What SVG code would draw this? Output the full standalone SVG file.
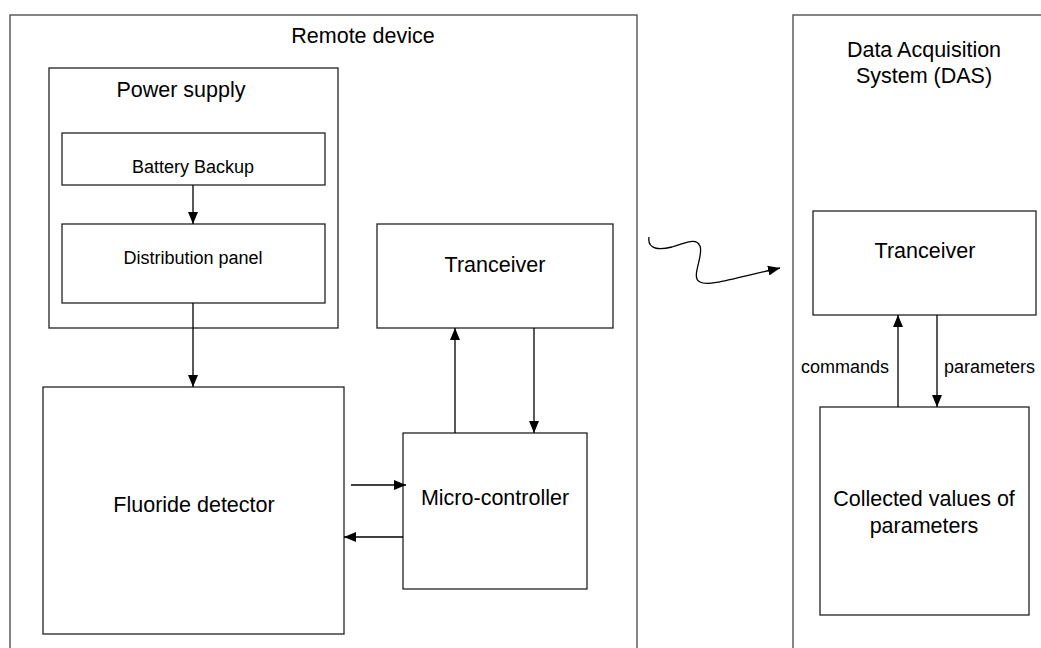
<svg xmlns="http://www.w3.org/2000/svg" width="1041" height="648" viewBox="0 0 1041 648">
<defs>
<style>
.box{fill:none;stroke:#222;stroke-width:1.3}
.outer{fill:none;stroke:#444;stroke-width:1.3}
.big{font-family:"Liberation Sans",Arial,sans-serif;font-size:21.5px;fill:#000;text-anchor:middle}
.small{font-family:"Liberation Sans",Arial,sans-serif;font-size:18px;fill:#000;text-anchor:middle}
.conn{fill:none;stroke:#000;stroke-width:1.3}
</style>
<marker id="ah" markerUnits="userSpaceOnUse" markerWidth="12" markerHeight="10" refX="12" refY="5" orient="auto">
<path d="M0,0 L12,5 L0,10 z" fill="#000"/>
</marker>
</defs>
<rect width="1041" height="648" fill="#fff"/>
<g id="remote-device">
<rect class="outer" x="10" y="15" width="627" height="650"/>
<text class="big" x="363" y="43">Remote device</text>
</g>
<g id="power-supply">
<rect class="box" x="49" y="68" width="289" height="260"/>
<text class="big" x="181" y="97">Power supply</text>
</g>
<g id="battery-backup">
<rect class="box" x="62" y="133" width="263" height="52"/>
<text class="small" x="193" y="173">Battery Backup</text>
</g>
<g id="distribution-panel">
<rect class="box" x="62" y="224" width="263" height="79"/>
<text class="small" x="193" y="264">Distribution panel</text>
</g>
<g id="fluoride-detector">
<rect class="box" x="43" y="387" width="301" height="247"/>
<text class="big" x="194" y="512">Fluoride detector</text>
</g>
<g id="tranceiver-remote">
<rect class="box" x="377" y="224" width="236" height="104"/>
<text class="big" x="495" y="272">Tranceiver</text>
</g>
<g id="micro-controller">
<rect class="box" x="403" y="433" width="184" height="156"/>
<text class="big" x="495" y="505">Micro-controller</text>
</g>
<g id="das">
<rect class="outer" x="793" y="15" width="260" height="650"/>
<text class="big" x="924" y="57">Data Acquisition</text>
<text class="big" x="924" y="83">System (DAS)</text>
</g>
<g id="tranceiver-das">
<rect class="box" x="813" y="211" width="223" height="104"/>
<text class="big" x="925" y="258">Tranceiver</text>
</g>
<g id="collected-values">
<rect class="box" x="820" y="407" width="209" height="208"/>
<text class="big" x="924" y="506">Collected values of</text>
<text class="big" x="924" y="533">parameters</text>
</g>
<g id="connectors">
<line class="conn" x1="193" y1="185" x2="193" y2="224" marker-end="url(#ah)"/>
<line class="conn" x1="193" y1="303" x2="193" y2="387" marker-end="url(#ah)"/>
<line class="conn" x1="455" y1="433" x2="455" y2="328" marker-end="url(#ah)"/>
<line class="conn" x1="534" y1="328" x2="534" y2="433" marker-end="url(#ah)"/>
<line class="conn" x1="351" y1="485" x2="406" y2="485" marker-end="url(#ah)"/>
<line class="conn" x1="403" y1="537" x2="344" y2="537" marker-end="url(#ah)"/>
<path class="conn" d="M649 237 C647 250,660 250,672 247 C686 243,696 237,700 246 C704 256,690 278,700 282 C708 287,735 278,780 268" marker-end="url(#ah)"/>
<line class="conn" x1="898" y1="407" x2="898" y2="315" marker-end="url(#ah)"/>
<line class="conn" x1="937" y1="315" x2="937" y2="407" marker-end="url(#ah)"/>
<text class="small" x="889" y="373" style="text-anchor:end">commands</text>
<text class="small" x="944" y="373" style="text-anchor:start">parameters</text>
</g>
</svg>
